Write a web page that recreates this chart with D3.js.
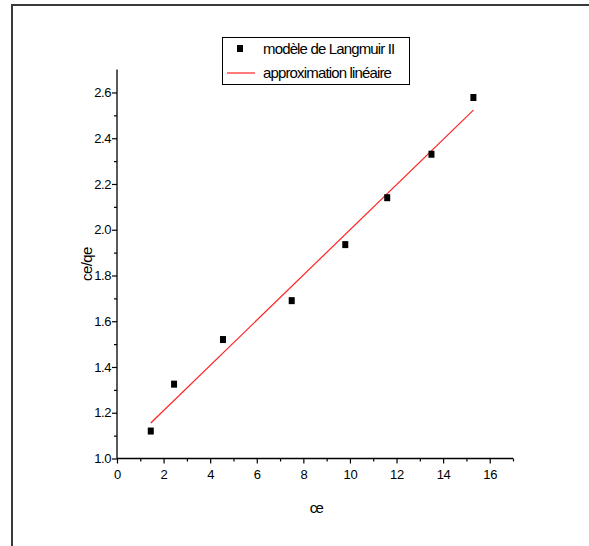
<!DOCTYPE html>
<html>
<head>
<meta charset="utf-8">
<script src="https://cdn.jsdelivr.net/npm/d3@7"></script>
<style>
  html, body { margin: 0; padding: 0; background: #fff; }
  svg { display: block; }
  text { font-family: "Liberation Sans", Arial, sans-serif; fill: #000; }
</style>
</head>
<body>
<svg id="chart" width="589" height="546"></svg>
<script>
// Langmuir II linearisation: ce/qe versus ce
const ce = [1.45, 2.45, 4.55, 7.5, 9.8, 11.6, 13.5, 15.3];
const ceOverQe = [1.12, 1.325, 1.52, 1.69, 1.935, 2.14, 2.33, 2.578];

// linear fit end points
const fitX = [1.45, 15.3];
const fitY = [1.155, 2.523];

const xTicks = [0, 2, 4, 6, 8, 10, 12, 14, 16];
const yTicks = [1.0, 1.2, 1.4, 1.6, 1.8, 2.0, 2.2, 2.4, 2.6];

const legendLabels = ["modèle de Langmuir II", "approximation linéaire"];

const svg = d3.select("#chart");

// page frame
svg.append("path")
  .attr("d", "M12,546 V5 H589")
  .attr("fill", "none")
  .attr("stroke", "#3a3a3a")
  .attr("stroke-width", 2);

const x = d3.scaleLinear().domain([0, 17]).range([117, 513]);
const y = d3.scaleLinear().domain([1.0, 2.7]).range([458.5, 69.6]);

// x axis
const xAxis = d3.axisBottom(x)
  .tickValues(d3.range(0, 17.5, 1))
  .tickSize(5)
  .tickFormat(d => xTicks.includes(d) ? d3.format("d")(d) : "");
const gx = svg.append("g").attr("transform", `translate(0,${y(1.0)})`).call(xAxis);
gx.select(".domain").attr("d", `M${x(0)},0H${x(17)}`).attr("stroke", "#000").attr("stroke-width", 1.3);
gx.selectAll(".tick line").attr("stroke", "#000").attr("stroke-width", 1.2);
gx.selectAll(".tick").filter(d => !xTicks.includes(d)).select("line").attr("y2", 3);
gx.selectAll(".tick text").attr("font-size", 13).attr("dy", "0.95em").attr("letter-spacing", "-0.3")
  .style("font-family", "'Liberation Sans', Arial, sans-serif");

// y axis
const yAxis = d3.axisLeft(y)
  .tickValues(d3.range(0, 17, 1).map(i => +(1.0 + i * 0.1).toFixed(1)))
  .tickSize(5)
  .tickFormat(d => yTicks.some(t => Math.abs(t - d) < 1e-9) ? d3.format(".1f")(d) : "");
const gy = svg.append("g").attr("transform", `translate(${x(0)},0)`).call(yAxis);
gy.select(".domain").attr("d", `M0,${y(1.0)}V${y(2.7)}`).attr("stroke", "#000").attr("stroke-width", 1.3);
gy.selectAll(".tick line").attr("stroke", "#000").attr("stroke-width", 1.2);
gy.selectAll(".tick").filter(d => !yTicks.some(t => Math.abs(t - d) < 1e-9)).select("line").attr("x2", -3);
gy.selectAll(".tick text").attr("font-size", 13).attr("x", -6).attr("letter-spacing", "-0.4")
  .style("font-family", "'Liberation Sans', Arial, sans-serif");

// axis titles
svg.append("text")
  .attr("x", 316).attr("y", 513)
  .attr("text-anchor", "middle")
  .attr("font-size", 15)
  .attr("letter-spacing", "-1.6")
  .text("ce");

svg.append("text")
  .attr("transform", `translate(92,${y(1.85)}) rotate(-90)`)
  .attr("text-anchor", "middle")
  .attr("font-size", 15)
  .attr("letter-spacing", "-0.6")
  .text("ce/qe");

// fit line
const line = d3.line().x(d => x(d[0])).y(d => y(d[1]));
svg.append("path")
  .datum(d3.zip(fitX, fitY))
  .attr("d", line)
  .attr("fill", "none")
  .attr("stroke", "#ff2020")
  .attr("stroke-width", 1.2);

// data points
svg.selectAll("rect.pt")
  .data(d3.zip(ce, ceOverQe))
  .join("rect")
  .attr("class", "pt")
  .attr("x", d => x(d[0]) - 3)
  .attr("y", d => y(d[1]) - 3.5)
  .attr("width", 6)
  .attr("height", 7)
  .attr("fill", "#000");

// legend
const lg = svg.append("g");
lg.append("rect")
  .attr("x", 222.5).attr("y", 37.5)
  .attr("width", 187).attr("height", 47)
  .attr("fill", "#fff").attr("stroke", "#000").attr("stroke-width", 1);
lg.append("rect")
  .attr("x", 237).attr("y", 45).attr("width", 6).attr("height", 7).attr("fill", "#000");
lg.append("line")
  .attr("x1", 227).attr("x2", 255).attr("y1", 73).attr("y2", 73)
  .attr("stroke", "#ff2020").attr("stroke-width", 1.2);
lg.selectAll("text.lab")
  .data(legendLabels)
  .join("text")
  .attr("class", "lab")
  .attr("x", 263)
  .attr("y", (d, i) => 54 + i * 24)
  .attr("font-size", 15)
  .attr("letter-spacing", "-0.85")
  .text(d => d);
</script>
</body>
</html>
